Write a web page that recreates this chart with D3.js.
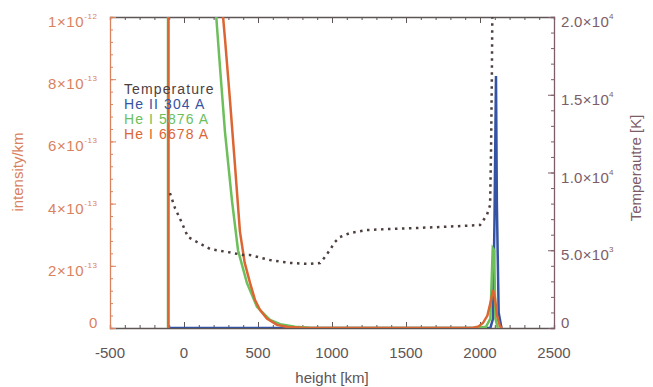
<!DOCTYPE html>
<html>
<head>
<meta charset="utf-8">
<script src="https://cdn.jsdelivr.net/npm/d3@7"></script>
<style>
  body { margin: 0; background: #fff; }
  text { font-family: "Liberation Sans", Arial, sans-serif; }
</style>
</head>
<body>
<div id="chart"></div>
<script>
// ---- data ----
let xTicks = [-500, 0, 500, 1000, 1500, 2000, 2500];
let leftTicks = [0, 2e-13, 4e-13, 6e-13, 8e-13, 1e-12];
let leftTickLabels = [['0', ''], ['2×10', '-13'], ['4×10', '-13'], ['6×10', '-13'], ['8×10', '-13'], ['1×10', '-12']];
let rightTicks = [0, 5000, 10000, 15000, 20000];
let rightTickLabels = [['0', ''], ['5.0×10', '3'], ['1.0×10', '4'], ['1.5×10', '4'], ['2.0×10', '4']];
let legendNames = ['Temperature', 'He II 304 A', 'He I 5876 A', 'He I 6678 A'];

// height [km], intensity
let heI6678 = [[-105, 0], [-105, 2e-12], [240, 1.3e-12], [264, 1.0e-12], [277, 0.93e-12], [311, 0.73e-12],
    [345, 0.52e-12], [378, 0.31e-12], [410, 0.21e-12], [446, 0.145e-12], [480, 0.09e-12], [514, 0.058e-12],
    [560, 0.03e-12], [628, 0.01e-12], [700, 0.003e-12], [800, 0.0005e-12], [900, 0], [1950, 0],
    [1990, 0.005e-12], [2020, 0.016e-12], [2050, 0.04e-12], [2075, 0.09e-12], [2088, 0.122e-12],
    [2100, 0.1e-12], [2115, 0.04e-12], [2135, 0.005e-12], [2150, 0]];
let heI5876 = [[-108, 0], [-108, 2e-12], [200, 1.15e-12], [218, 1.0e-12], [243, 0.84e-12], [277, 0.63e-12],
    [324, 0.41e-12], [365, 0.25e-12], [425, 0.145e-12], [493, 0.068e-12], [581, 0.026e-12],
    [650, 0.012e-12], [750, 0.004e-12], [850, 0.001e-12], [950, 0], [1960, 0], [2040, 0.004e-12],
    [2070, 0.03e-12], [2082, 0.2e-12], [2086, 0.257e-12], [2096, 0.25e-12], [2104, 0.03e-12], [2120, 0]];
let heII304 = [[-105, 0], [2070, 0], [2088, 0.03e-12], [2098, 0.35e-12], [2108, 0.81e-12],
    [2114, 0.4e-12], [2126, 0.05e-12], [2145, 0]];
// height [km], temperature [K]
let temperature = [[-95, 8680], [-61, 7720], [-14, 6750], [27, 5850], [88, 5530], [176, 5080], [291, 4890],
    [399, 4700], [446, 4690], [581, 4370], [716, 4180], [851, 4120], [919, 4180], [953, 4570],
    [986, 5020], [1020, 5530], [1054, 5850], [1122, 6110], [1236, 6300], [1392, 6370], [1700, 6480],
    [2000, 6620], [2047, 7270], [2068, 7900], [2074, 11000], [2080, 16000], [2084, 21000]];

// ---- layout ----
let width = 653;
let height = 387;
let margin = { top: 17, left: 110, right: 99, bottom: 59 };
let plotWidth = width - margin.left - margin.right;
let plotHeight = height - margin.top - margin.bottom;

let colors = {
    temp: '#4e3f3f',
    he304: '#3453a3',
    he5876: '#6cbf5a',
    he6678: '#dc6633',
    leftAxis: '#d9825f',
    rightAxis: '#7d5d68',
    bottomAxis: '#5e5555'
};

let svg = d3.select('#chart').append('svg')
    .attr('width', width)
    .attr('height', height);

let plot = svg.append('g')
    .attr('transform', `translate(${margin.left},${margin.top})`);

let xScale = d3.scaleLinear().domain([-500, 2500]).range([0, plotWidth]);
let yLeft = d3.scaleLinear().domain([0, 1e-12]).range([plotHeight, 0]);
let yRight = d3.scaleLinear().domain([0, 20000]).range([plotHeight, 0]);

svg.append('defs').append('clipPath').attr('id', 'clip')
    .append('rect').attr('width', plotWidth).attr('height', plotHeight);

// ---- axes with inward ticks ----
function minor(scale, step) {
    let [a, b] = scale.domain();
    return d3.range(a, b + step / 2, step);
}

function drawAxis(axisFn, scale, ticks, step, transform, color) {
    let g = plot.append('g').attr('transform', transform);
    g.call(axisFn(scale).tickValues(minor(scale, step)).tickSize(-3).tickFormat(''));
    g.selectAll('.tick line').attr('stroke', color);
    let g3 = plot.append('g').attr('transform', transform);
    g3.call(axisFn(scale).tickValues(ticks).tickSize(-6).tickFormat(''));
    g3.selectAll('.tick line').attr('stroke', color);
    g.select('.domain').attr('stroke', color).attr('stroke-width', 1.3);
    g3.select('.domain').remove();
    return g3;
}

drawAxis(d3.axisBottom, xScale, xTicks, 100, `translate(0,${plotHeight})`, colors.bottomAxis);
drawAxis(d3.axisTop, xScale, xTicks, 100, 'translate(0,0)', colors.bottomAxis);
drawAxis(d3.axisLeft, yLeft, leftTicks, 4e-14, 'translate(0,0)', colors.leftAxis);
drawAxis(d3.axisRight, yRight, rightTicks, 1000, `translate(${plotWidth},0)`, colors.rightAxis);

// tick labels
plot.append('g').selectAll('text')
    .data(xTicks)
    .join('text')
    .attr('x', d => xScale(d))
    .attr('y', plotHeight + 30)
    .attr('text-anchor', 'middle')
    .attr('font-size', 15)
    .attr('fill', colors.bottomAxis)
    .text(d => d);

function expLabel(sel, labels, color) {
    sel.attr('fill', color).attr('font-size', 15);
    sel.each(function (d, i) {
        let t = d3.select(this);
        t.append('tspan').text(labels[i][0]);
        if (labels[i][1]) {
            t.append('tspan').attr('dy', -8).attr('font-size', 8).text(labels[i][1]);
        }
    });
}

plot.append('g').selectAll('text')
    .data(leftTicks)
    .join('text')
    .attr('x', (d, i) => i === 0 ? -12 : -62)
    .attr('y', (d, i) => yLeft(d) + (i === 0 ? 0 : 10))
    .attr('text-anchor', (d, i) => i === 0 ? 'end' : 'start')
    .attr('letter-spacing', 0.6)
    .call(sel => expLabel(sel, leftTickLabels, colors.leftAxis));

plot.append('g').selectAll('text')
    .data(rightTicks)
    .join('text')
    .attr('x', plotWidth + 7)
    .attr('y', (d, i) => yRight(d) + (i === 0 ? 0 : 10))
    .attr('letter-spacing', 0.3)
    .call(sel => expLabel(sel, rightTickLabels, colors.rightAxis));

// axis titles
svg.append('text')
    .attr('x', margin.left + plotWidth / 2)
    .attr('y', 383)
    .attr('text-anchor', 'middle')
    .attr('font-size', 15)
    .attr('fill', colors.bottomAxis)
    .text('height [km]');

svg.append('text')
    .attr('transform', `translate(23,172) rotate(-90)`)
    .attr('text-anchor', 'middle')
    .attr('font-size', 15)
    .attr('fill', colors.leftAxis)
    .text('intensity/km');

svg.append('text')
    .attr('transform', `translate(641,168) rotate(-90)`)
    .attr('text-anchor', 'middle')
    .attr('font-size', 15)
    .attr('fill', colors.rightAxis)
    .text('Temperautre [K]');

// ---- lines ----
let lines = plot.append('g').attr('clip-path', 'url(#clip)');
let lineLeft = d3.line().x(d => xScale(d[0])).y(d => yLeft(d[1]));
let lineRight = d3.line().x(d => xScale(d[0])).y(d => yRight(d[1]));

lines.append('path').datum(heII304)
    .attr('d', lineLeft).attr('fill', 'none').attr('stroke', colors.he304).attr('stroke-width', 2.5);
lines.append('path').datum(heI5876)
    .attr('d', lineLeft).attr('fill', 'none').attr('stroke', colors.he5876).attr('stroke-width', 2.5);
lines.append('path').datum(heI6678)
    .attr('d', lineLeft).attr('fill', 'none').attr('stroke', colors.he6678).attr('stroke-width', 2.5);
lines.append('path').datum(temperature)
    .attr('d', lineRight).attr('fill', 'none').attr('stroke', colors.temp)
    .attr('stroke-width', 2.5).attr('stroke-dasharray', '2.5,4.5');

// ---- legend ----
let legendColors = [colors.temp, colors.he304, colors.he5876, colors.he6678];
plot.append('g').selectAll('text')
    .data(legendNames)
    .join('text')
    .attr('x', 14)
    .attr('y', (d, i) => 77 + i * 15)
    .attr('font-size', 14)
    .attr('letter-spacing', 1.1)
    .attr('fill', (d, i) => legendColors[i])
    .text(d => d);
</script>
</body>
</html>
